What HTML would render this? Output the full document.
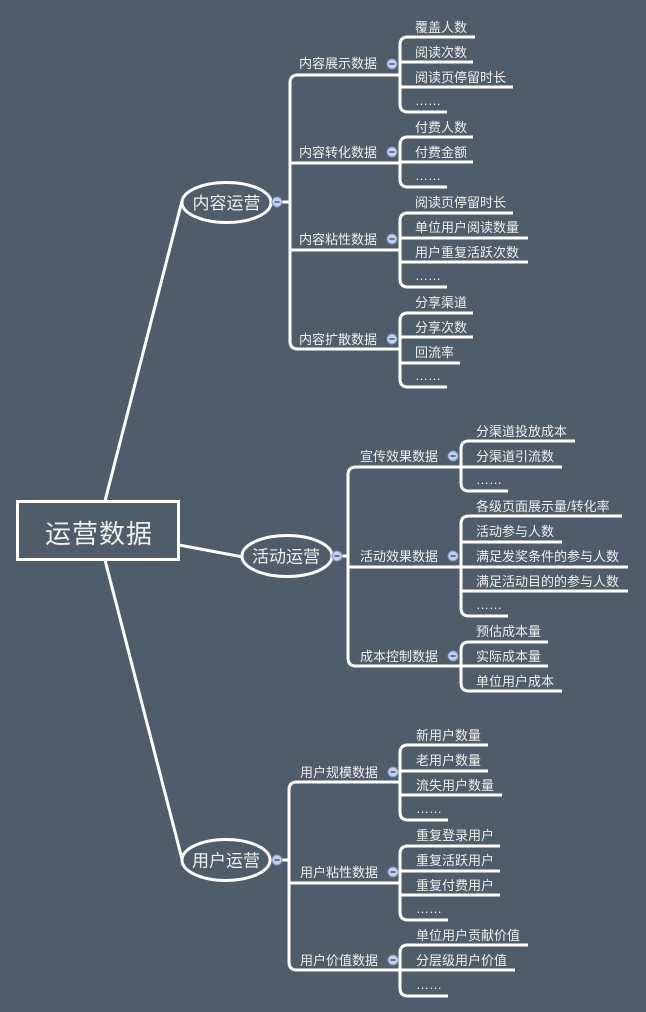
<!DOCTYPE html>
<html>
<head>
<meta charset="utf-8">
<style>
html,body{margin:0;padding:0;background:#4f5d6b;}
svg{display:block;}
text{font-family:"Liberation Sans","Noto Sans CJK SC",sans-serif;fill:#eeeeee;}
.l{font-size:13px;}
.m{font-size:17px;}
</style>
</head>
<body>
<svg width="646" height="1012" viewBox="0 0 646 1012" xmlns="http://www.w3.org/2000/svg">
<rect x="0" y="0" width="646" height="1012" fill="#4f5d6b"/>
<g fill="none" stroke="#ffffff" stroke-width="3">
  <!-- root connectors -->
  <path d="M105 501 L182 201"/>
  <path d="M179 545 L243 557"/>
  <path d="M105 560 L182 859"/>

  <!-- 内容运营 -->
  <path d="M282 202 H290"/>
  <path d="M298 75 Q290 75 290 83 V341 Q290 349 298 349"/>
  <path d="M296 75 H400"/>
  <path d="M290 163 H400"/>
  <path d="M290 250 H400"/>
  <path d="M296 349 H400"/>
  <!-- group1 -->
  <path d="M408 37 Q400 37 400 45 V104 Q400 112 408 112"/>
  <path d="M406 37 H475"/>
  <path d="M400 62 H473"/>
  <path d="M400 87 H513"/>
  <path d="M406 112 H447"/>
  <!-- group2 -->
  <path d="M408 137 Q400 137 400 145 V179 Q400 187 408 187"/>
  <path d="M406 137 H473"/>
  <path d="M400 162 H473"/>
  <path d="M406 187 H447"/>
  <!-- group3 -->
  <path d="M408 213 Q400 213 400 221 V279 Q400 287 408 287"/>
  <path d="M406 213 H513"/>
  <path d="M400 238 H528"/>
  <path d="M400 262 H528"/>
  <path d="M406 287 H447"/>
  <!-- group4 -->
  <path d="M408 313 Q400 313 400 321 V379 Q400 387 408 387"/>
  <path d="M406 313 H473"/>
  <path d="M400 337 H473"/>
  <path d="M400 363 H460"/>
  <path d="M406 387 H447"/>

  <!-- 活动运营 -->
  <path d="M342 556 H348"/>
  <path d="M356 467 Q348 467 348 475 V658 Q348 666 356 666"/>
  <path d="M354 467 H461"/>
  <path d="M348 567 H461"/>
  <path d="M354 666 H461"/>
  <!-- 宣传 -->
  <path d="M469 441 Q461 441 461 449 V483 Q461 491 469 491"/>
  <path d="M467 441 H575"/>
  <path d="M461 467 H562"/>
  <path d="M467 491 H508"/>
  <!-- 活动效果 -->
  <path d="M469 516 Q461 516 461 524 V608 Q461 616 469 616"/>
  <path d="M467 516 H622"/>
  <path d="M461 542 H562"/>
  <path d="M461 567 H628"/>
  <path d="M461 591 H628"/>
  <path d="M467 616 H508"/>
  <!-- 成本 -->
  <path d="M469 642 Q461 642 461 650 V683 Q461 691 469 691"/>
  <path d="M467 642 H548"/>
  <path d="M461 666 H548"/>
  <path d="M467 691 H562"/>

  <!-- 用户运营 -->
  <path d="M282 860 H289"/>
  <path d="M297 782 Q289 782 289 790 V962 Q289 970 297 970"/>
  <path d="M295 782 H400"/>
  <path d="M289 883 H400"/>
  <path d="M295 970 H400"/>
  <!-- 规模 -->
  <path d="M408 745 Q400 745 400 753 V812 Q400 820 408 820"/>
  <path d="M406 745 H488"/>
  <path d="M400 771 H488"/>
  <path d="M400 795 H502"/>
  <path d="M406 820 H448"/>
  <!-- 粘性 -->
  <path d="M408 846 Q400 846 400 854 V912 Q400 920 408 920"/>
  <path d="M406 846 H500"/>
  <path d="M400 871 H500"/>
  <path d="M400 895 H500"/>
  <path d="M406 920 H448"/>
  <!-- 价值 -->
  <path d="M408 945 Q400 945 400 953 V988 Q400 996 408 996"/>
  <path d="M406 945 H528"/>
  <path d="M400 970 H515"/>
  <path d="M406 996 H448"/>
</g>

<!-- root box -->
<rect x="17.5" y="501.5" width="161" height="58" fill="#4f5d6b" stroke="#ffffff" stroke-width="3"/>
<text x="99" y="543" font-size="26" text-anchor="middle" letter-spacing="1">运营数据</text>

<!-- main topics -->
<ellipse cx="226.5" cy="202.5" rx="44.5" ry="20" fill="#4f5d6b" stroke="#ffffff" stroke-width="3"/>
<text class="m" x="226.5" y="209" text-anchor="middle">内容运营</text>
<ellipse cx="287" cy="556" rx="45" ry="20.5" fill="#4f5d6b" stroke="#ffffff" stroke-width="3"/>
<text class="m" x="286" y="562.5" text-anchor="middle">活动运营</text>
<ellipse cx="226" cy="860" rx="44" ry="20.5" fill="#4f5d6b" stroke="#ffffff" stroke-width="3"/>
<text class="m" x="226" y="866.5" text-anchor="middle">用户运营</text>

<!-- icons -->
<g stroke="#7f95c4" stroke-width="1" fill="#c3d1f0">
  <circle cx="277" cy="202" r="5"/>
  <circle cx="337" cy="556" r="5"/>
  <circle cx="277" cy="860" r="5"/>
  <circle cx="392" cy="64" r="5"/>
  <circle cx="392" cy="152" r="5"/>
  <circle cx="392" cy="239" r="5"/>
  <circle cx="392" cy="339" r="5"/>
  <circle cx="453" cy="456" r="5"/>
  <circle cx="453" cy="556" r="5"/>
  <circle cx="453" cy="656" r="5"/>
  <circle cx="393" cy="772" r="5"/>
  <circle cx="393" cy="872" r="5"/>
  <circle cx="393" cy="960" r="5"/>
</g>
<g stroke="#4a5563" stroke-width="1.5">
  <path d="M274.5 202 H279.5"/>
  <path d="M334.5 556 H339.5"/>
  <path d="M274.5 860 H279.5"/>
  <path d="M389.5 64 H394.5"/>
  <path d="M389.5 152 H394.5"/>
  <path d="M389.5 239 H394.5"/>
  <path d="M389.5 339 H394.5"/>
  <path d="M450.5 456 H455.5"/>
  <path d="M450.5 556 H455.5"/>
  <path d="M450.5 656 H455.5"/>
  <path d="M390.5 772 H395.5"/>
  <path d="M390.5 872 H395.5"/>
  <path d="M390.5 960 H395.5"/>
</g>

<!-- subtopics -->
<g class="l">
  <text class="l" x="299" y="68">内容展示数据</text>
  <text class="l" x="299" y="157">内容转化数据</text>
  <text class="l" x="299" y="244">内容粘性数据</text>
  <text class="l" x="299" y="344">内容扩散数据</text>
  <text class="l" x="360" y="461">宣传效果数据</text>
  <text class="l" x="360" y="561">活动效果数据</text>
  <text class="l" x="360" y="661">成本控制数据</text>
  <text class="l" x="300" y="777">用户规模数据</text>
  <text class="l" x="300" y="877">用户粘性数据</text>
  <text class="l" x="300" y="965">用户价值数据</text>
</g>

<!-- leaves -->
<g>
  <text class="l" x="415" y="32">覆盖人数</text>
  <text class="l" x="415" y="57">阅读次数</text>
  <text class="l" x="415" y="82">阅读页停留时长</text>
  <text class="l" x="415" y="105">……</text>
  <text class="l" x="415" y="132">付费人数</text>
  <text class="l" x="415" y="157">付费金额</text>
  <text class="l" x="415" y="180">……</text>
  <text class="l" x="415" y="207">阅读页停留时长</text>
  <text class="l" x="415" y="232">单位用户阅读数量</text>
  <text class="l" x="415" y="257">用户重复活跃次数</text>
  <text class="l" x="415" y="280">……</text>
  <text class="l" x="415" y="307">分享渠道</text>
  <text class="l" x="415" y="332">分享次数</text>
  <text class="l" x="415" y="357">回流率</text>
  <text class="l" x="415" y="380">……</text>

  <text class="l" x="476" y="436">分渠道投放成本</text>
  <text class="l" x="476" y="461">分渠道引流数</text>
  <text class="l" x="476" y="484">……</text>
  <text class="l" x="476" y="511">各级页面展示量/转化率</text>
  <text class="l" x="476" y="536">活动参与人数</text>
  <text class="l" x="476" y="561">满足发奖条件的参与人数</text>
  <text class="l" x="476" y="586">满足活动目的的参与人数</text>
  <text class="l" x="476" y="609">……</text>
  <text class="l" x="476" y="636">预估成本量</text>
  <text class="l" x="476" y="661">实际成本量</text>
  <text class="l" x="476" y="686">单位用户成本</text>

  <text class="l" x="416" y="740">新用户数量</text>
  <text class="l" x="416" y="765">老用户数量</text>
  <text class="l" x="416" y="790">流失用户数量</text>
  <text class="l" x="416" y="813">……</text>
  <text class="l" x="416" y="840">重复登录用户</text>
  <text class="l" x="416" y="865">重复活跃用户</text>
  <text class="l" x="416" y="890">重复付费用户</text>
  <text class="l" x="416" y="913">……</text>
  <text class="l" x="416" y="940">单位用户贡献价值</text>
  <text class="l" x="416" y="965">分层级用户价值</text>
  <text class="l" x="416" y="989">……</text>
</g>
</svg>
</body>
</html>
